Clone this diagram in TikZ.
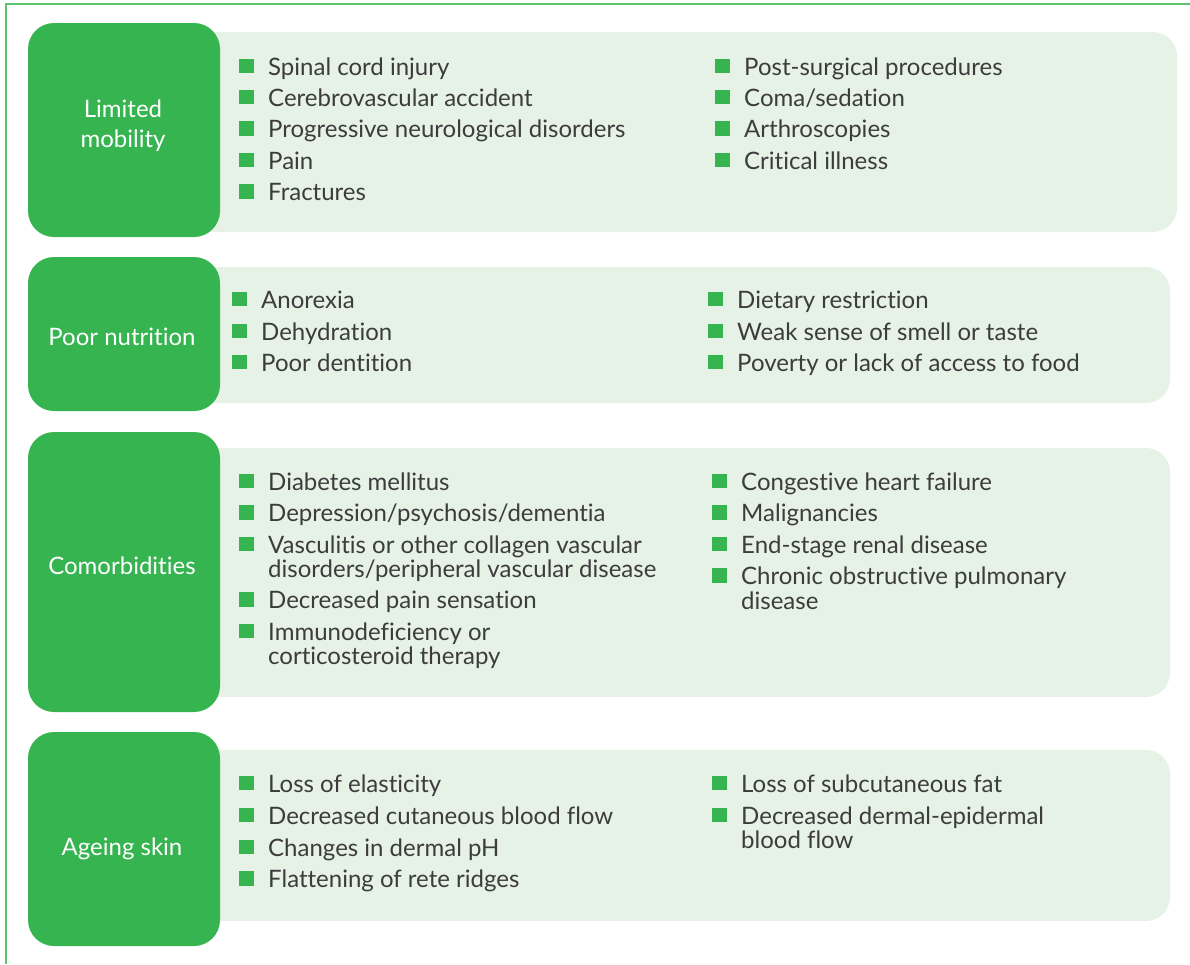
\documentclass[tikz,border=0pt]{standalone}
\usepackage{fontspec}
\setmainfont{Lato}[Ligatures={NoCommon}]
\definecolor{boxgreen}{HTML}{35B450}
\definecolor{lightgreen}{HTML}{E6F2E6}
\definecolor{framegreen}{HTML}{5CC46C}
\definecolor{txtgray}{HTML}{3C3C3C}
\newcommand\myitem[4]{%
  \node[bulletsq] (#1b) at (#2-21.5,#3-9) {};
  \node[itemtxt] (#1) at (#2,#3) {\begin{tabular}[t]{@{}l@{}}#4\end{tabular}};
}
\begin{document}
\begin{tikzpicture}[x=1pt,y=-1pt,
  labeltxt/.style={text=white,font=\fontsize{24}{30}\selectfont,align=center,inner sep=0pt},
  itemtxt/.style={text=txtgray,font=\fontsize{24}{24}\selectfont,anchor=base west,inner sep=0pt},
  bulletsq/.style={fill=boxgreen,draw=none,minimum size=14.5pt,inner sep=0pt,anchor=center}]
\useasboundingbox (0,0) rectangle (1190,964);
\draw[framegreen,line width=1.6pt] (6,964) -- (6,4) -- (1190,4);
% light boxes
\fill[lightgreen,rounded corners=24pt] (190,32) rectangle (1177,232);
\fill[lightgreen,rounded corners=24pt] (190,267) rectangle (1170,403);
\fill[lightgreen,rounded corners=24pt] (190,448) rectangle (1170,697);
\fill[lightgreen,rounded corners=24pt] (190,750) rectangle (1170,921);
% green label boxes
\fill[boxgreen,rounded corners=26pt] (28,23) rectangle (220,237);
\fill[boxgreen,rounded corners=26pt] (28,257) rectangle (220,411);
\fill[boxgreen,rounded corners=26pt] (28,432) rectangle (220,712);
\fill[boxgreen,rounded corners=26pt] (28,732) rectangle (220,946);
% labels
\node[labeltxt] (l1) at (123,126) {Limited\\mobility};
\node[labeltxt] (l2) at (122,337) {Poor nutrition};
\node[labeltxt] (l3) at (122,566) {Comorbidities};
\node[labeltxt] (l4) at (122,849) {Ageing skin};
% box 1
\myitem{a1}{268}{75}{Spinal cord injury}
\myitem{a2}{268}{106}{Cerebrovascular accident}
\myitem{a3}{268}{137.5}{Progressive neurological disorders}
\myitem{a4}{268}{169}{Pain}
\myitem{a5}{268}{200.5}{Fractures}
\myitem{a6}{744}{75}{Post-surgical procedures}
\myitem{a7}{744}{106}{Coma/sedation}
\myitem{a8}{744}{137.5}{Arthroscopies}
\myitem{a9}{744}{169}{Critical illness}
% box 2
\myitem{b1}{261}{308}{Anorexia}
\myitem{b2}{261}{340}{Dehydration}
\myitem{b3}{261}{371}{Poor dentition}
\myitem{b4}{737}{308}{Dietary restriction}
\myitem{b5}{737}{340}{Weak sense of smell or taste}
\myitem{b6}{737}{371}{Poverty or lack of access to food}
% box 3
\myitem{c1}{268}{490}{Diabetes mellitus}
\myitem{c2}{268}{521.5}{Depression/psychosis/dementia}
\myitem{c3}{268}{553}{Vasculitis or other collagen vascular\\disorders/peripheral vascular disease}
\myitem{c4}{268}{608.5}{Decreased pain sensation}
\myitem{c5}{268}{640}{Immunodeficiency or\\corticosteroid therapy}
\myitem{c6}{741}{490}{Congestive heart failure}
\myitem{c7}{741}{521.5}{Malignancies}
\myitem{c8}{741}{553}{End-stage renal disease}
\myitem{c9}{741}{584.5}{Chronic obstructive pulmonary\\disease}
% box 4
\myitem{d1}{268}{792}{Loss of elasticity}
\myitem{d2}{268}{824}{Decreased cutaneous blood flow}
\myitem{d3}{268}{856}{Changes in dermal pH}
\myitem{d4}{268}{887.5}{Flattening of rete ridges}
\myitem{d5}{741}{792}{Loss of subcutaneous fat}
\myitem{d6}{741}{824}{Decreased dermal-epidermal\\blood flow}
\end{tikzpicture}
\end{document}
